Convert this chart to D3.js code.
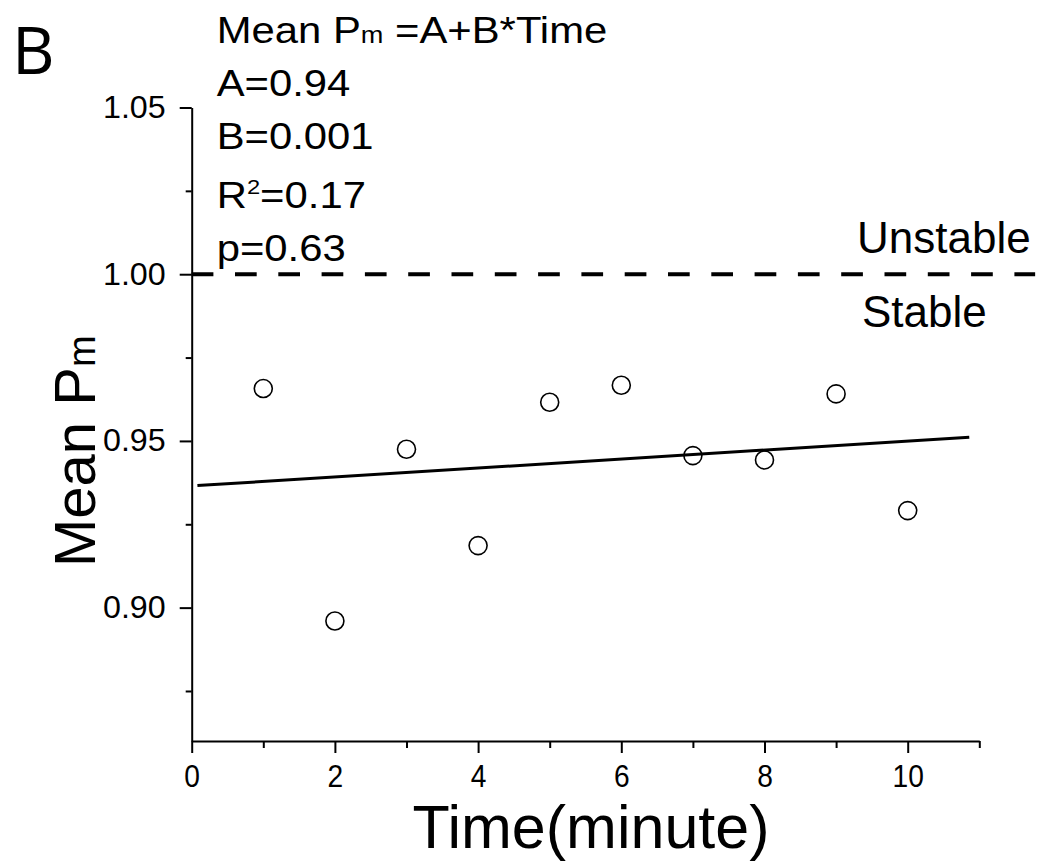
<!DOCTYPE html>
<html>
<head>
<meta charset="utf-8">
<script src="https://cdn.jsdelivr.net/npm/d3@7"></script>
<style>
  html, body { margin: 0; padding: 0; background: #fff; }
  svg { display: block; }
  text { font-family: "Liberation Sans", Arial, sans-serif; fill: #000; }
</style>
</head>
<body>
<svg id="chart" width="1044" height="861"></svg>
<script>
// ---------------- data ----------------
const times = [1, 2, 3, 4, 5, 6, 7, 8, 9, 10];
const meanPm = [0.9657, 0.8960, 0.9475, 0.9186, 0.9616, 0.9667, 0.9456, 0.9443, 0.9641, 0.9291];
const fitX = [0.08, 10.86];
const fitY = [0.9366, 0.9511];
const thresholdY = 1.00;
const thresholdX = [0, 11.78];
const xDomain = [0, 11];
const yDomain = [0.86, 1.05];
const xMajorTicks = [0, 2, 4, 6, 8, 10];
const xMinorTicks = [1, 3, 5, 7, 9, 11];
const yMajorTicks = [0.90, 0.95, 1.00, 1.05];
const yMinorTicks = [0.875, 0.925, 0.975, 1.025];
const annotationLines = ["A=0.94", "B=0.001", "p=0.63"];
const r2Value = "0.17";

// ---------------- layout ----------------
const svg = d3.select("#chart");
svg.append("rect").attr("width", 1044).attr("height", 861).attr("fill", "#fff");

const x = d3.scaleLinear().domain(xDomain).range([191.7, 979.3]);
const y = d3.scaleLinear().domain(yDomain).range([741, 107.5]);

function stretch(sel, factor) {
  sel.each(function () {
    const len = this.getComputedTextLength();
    d3.select(this).attr("textLength", len * factor).attr("lengthAdjust", "spacingAndGlyphs");
  });
}

// Y axis
const gy = svg.append("g").attr("transform", `translate(${x(0)},0)`);
gy.call(d3.axisLeft(y).tickValues(yMajorTicks).tickSize(12).tickSizeOuter(0).tickPadding(14)
  .tickFormat(d3.format(".2f")));
gy.append("g").call(d3.axisLeft(y).tickValues(yMinorTicks).tickSize(6).tickFormat(""))
  .select(".domain").remove();
gy.selectAll("path, line").attr("stroke", "#000").attr("stroke-width", 2);
gy.selectAll("text").attr("font-size", 31).attr("fill", "#000")
  .style("font-family", '"Liberation Sans", Arial, sans-serif');
stretch(gy.selectAll(".tick text").filter(function(){ return this.textContent !== ""; }), 1.04);

// X axis
const gx = svg.append("g").attr("transform", `translate(0,${y(yDomain[0])})`);
gx.call(d3.axisBottom(x).tickValues(xMajorTicks).tickSize(12).tickSizeOuter(0).tickPadding(11)
  .tickFormat(d3.format("d")));
gx.append("g").call(d3.axisBottom(x).tickValues(xMinorTicks).tickSize(7).tickFormat(""))
  .select(".domain").remove();
gx.selectAll("path, line").attr("stroke", "#000").attr("stroke-width", 2);
gx.selectAll("text").attr("font-size", 32).attr("fill", "#000")
  .style("font-family", '"Liberation Sans", Arial, sans-serif');
stretch(gx.selectAll(".tick text").filter(function(){ return this.textContent !== ""; }), 0.88);

// threshold dashed line
svg.append("line")
  .attr("x1", x(thresholdX[0])).attr("x2", x(thresholdX[1]))
  .attr("y1", y(thresholdY)).attr("y2", y(thresholdY))
  .attr("stroke", "#000").attr("stroke-width", 4)
  .attr("stroke-dasharray", "21.7,21.6");

// regression line
svg.append("line")
  .attr("x1", x(fitX[0])).attr("x2", x(fitX[1]))
  .attr("y1", y(fitY[0])).attr("y2", y(fitY[1]))
  .attr("stroke", "#000").attr("stroke-width", 3);

// points
svg.append("g").selectAll("circle")
  .data(times.map((t, i) => ({ t, v: meanPm[i] })))
  .join("circle")
  .attr("cx", d => x(d.t)).attr("cy", d => y(d.v))
  .attr("r", 9).attr("fill", "none")
  .attr("stroke", "#000").attr("stroke-width", 1.6);

// Panel letter
svg.append("text").attr("x", 12).attr("y", 74)
  .attr("font-size", 66).style("font-family", '"Open Sans", sans-serif')
  .text("B");

// annotation
const annX = 216.7;
const ann = svg.append("g").attr("font-size", 37);
const t0 = ann.append("text").attr("x", annX).attr("y", 43);
t0.append("tspan").text("Mean P");
t0.append("tspan").attr("font-size", 24).text("m");
t0.append("tspan").text(" =A+B*Time");
ann.append("text").attr("x", annX).attr("y", 96).text(annotationLines[0]);
ann.append("text").attr("x", annX).attr("y", 149).text(annotationLines[1]);
const tr = ann.append("text").attr("x", annX).attr("y", 208);
tr.append("tspan").text("R");
tr.append("tspan").attr("font-size", 21).attr("dy", -14).text("2");
tr.append("tspan").attr("dy", 14).text("=" + r2Value);
ann.append("text").attr("x", annX).attr("y", 261).text(annotationLines[2]);
stretch(ann.selectAll("text"), 1.13);

// Unstable / Stable
svg.append("text").attr("x", 857).attr("y", 253).attr("font-size", 44).text("Unstable");
svg.append("text").attr("x", 862).attr("y", 327).attr("font-size", 44).text("Stable");

// Y axis title
const yt = svg.append("text")
  .attr("transform", "translate(95,567) rotate(-90)")
  .attr("font-size", 58);
yt.append("tspan").text("Mean P");
yt.append("tspan").attr("font-size", 38).text("m");

// X axis title
svg.append("text").attr("x", 591).attr("y", 848)
  .attr("text-anchor", "middle").attr("font-size", 61).text("Time(minute)");
</script>
</body>
</html>
